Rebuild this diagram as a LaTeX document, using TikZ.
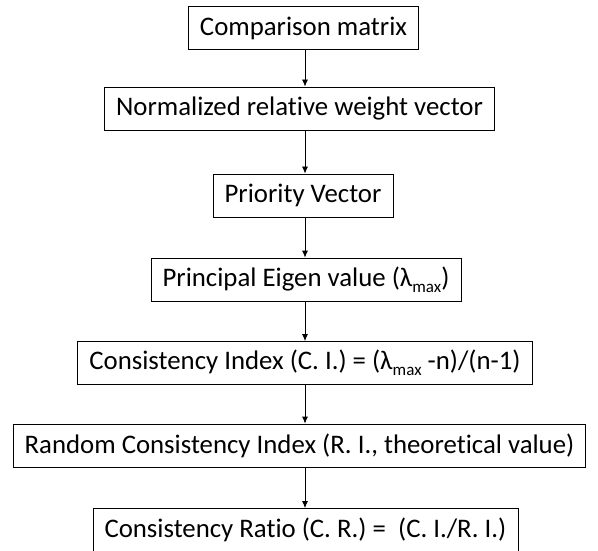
\documentclass[tikz,border=0pt]{standalone}
\usepackage{fontspec}
\setmainfont[Ligatures=NoCommon]{Carlito}
\usetikzlibrary{arrows.meta}
\newcommand{\lmax}{λ\raisebox{-0.45ex}{\fontsize{17}{17}\selectfont max}}

\begin{document}
\begin{tikzpicture}[x=1pt,y=-1pt,
  every node/.style={draw,inner xsep=11.5pt,minimum height=43pt,
    line width=0.8pt,font=\fontsize{26.8}{30}\selectfont},
  flow/.style={line width=0.8pt,-{Latex[length=7pt,width=6pt]}}]
  \useasboundingbox (0,0) rectangle (598,551);
  \coordinate (spine) at (305,0);
  \node (cm) at (303.5,28) {Comparison matrix};
  \node (nw) at (299.5,108.5) {Normalized relative weight vector};
  \node (pv) at (303,195.5) {Priority Vector};
  \node (pe) at (306,279.5) {Principal Eigen value (\lmax)};
  \node (ci) at (305,363) {Consistency Index (C. I.) = (\lmax\ -n)/(n-1)};
  \node (ri) at (299.5,445.5) {Random Consistency Index (R. I., theoretical value)};
  \node (cr) at (305.5,530) {Consistency Ratio (C. R.) = \ (C. I./R. I.)};
  \foreach \a/\b in {cm/nw,nw/pv,pv/pe,pe/ci,ci/ri,ri/cr}
    \draw[flow] (spine |- \a.south) -- (spine |- \b.north);
\end{tikzpicture}
\end{document}
